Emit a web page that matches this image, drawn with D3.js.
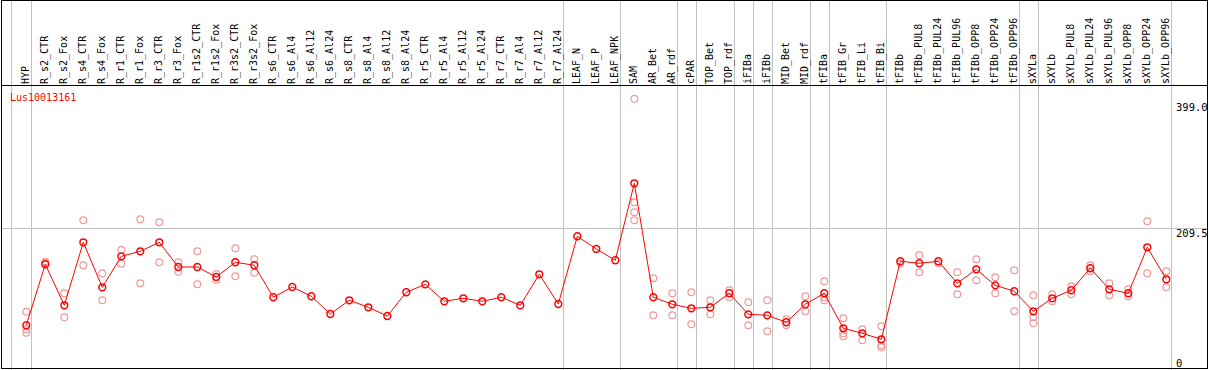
<!DOCTYPE html>
<html>
<head>
<meta charset="utf-8">
<script src="https://cdn.jsdelivr.net/npm/d3@7"></script>
<style>
  body { margin: 0; background: #fff; }
  text { font-family: "DejaVu Sans Mono", monospace; }
</style>
</head>
<body>
<script>
// Sample names (x categories)
var samples = ["HYP", "R_s2_CTR", "R_s2_Fox", "R_s4_CTR", "R_s4_Fox", "R_r1_CTR", "R_r1_Fox",
  "R_r3_CTR", "R_r3_Fox", "R_r1s2_CTR", "R_r1s2_Fox", "R_r3s2_CTR", "R_r3s2_Fox",
  "R_s6_CTR", "R_s6_Al4", "R_s6_Al12", "R_s6_Al24", "R_s8_CTR", "R_s8_Al4", "R_s8_Al12", "R_s8_Al24",
  "R_r5_CTR", "R_r5_Al4", "R_r5_Al12", "R_r5_Al24", "R_r7_CTR", "R_r7_Al4", "R_r7_Al12", "R_r7_Al24",
  "LEAF_N", "LEAF_P", "LEAF_NPK", "SAM", "AR_Bet", "AR_rdf", "cPAR", "TOP_Bet", "TOP_rdf",
  "iFIBa", "iFIBb", "MID_Bet", "MID_rdf", "tFIBa", "tFIB_Gr", "tFIB_Li", "tFIB_Bi",
  "tFIBb", "tFIBb_PUL8", "tFIBb_PUL24", "tFIBb_PUL96", "tFIBb_OPP8", "tFIBb_OPP24", "tFIBb_OPP96",
  "sXYLa", "sXYLb", "sXYLb_PUL8", "sXYLb_PUL24", "sXYLb_PUL96", "sXYLb_OPP8", "sXYLb_OPP24", "sXYLb_OPP96"];

// mean expression per sample
var means = [64.4, 155.7, 94.3, 188.6, 121.2, 167.6, 175.1, 188.6, 151.6, 151.6, 136.7, 158.7, 154.2,
  106.3, 121.7, 107.8, 81.3, 101.8, 91.3, 78.3, 113.8,
  125.7, 100.3, 104.8, 100.3, 106.3, 94.3, 140.7, 96.2,
  197.6, 178.6, 161.7, 276.9, 106.3, 95.8, 89.8, 91.3, 112.3,
  80.8, 79.3, 68.9, 95.8, 112.3, 59.9, 52.4, 43.4,
  160.2, 157.2, 160.2, 127.2, 148.2, 124.2, 115.3,
  85.3, 104.8, 116.8, 149.7, 118.2, 112.3, 181.1, 133.2];

// replicate values per sample
var replicates = [
  [84.7, 58.4, 53.3], [159.6, 157.6], [112.3, 76.3], [221.5, 154.2], [142.2, 101.8],
  [177.1, 156.6], [223.0, 127.2], [218.5, 158.7], [158.7, 144.6], [175.1, 125.7],
  [141.1, 132.6], [179.6, 137.7], [163.2, 143.1],
  [], [], [], [], [], [], [], [], [], [], [], [], [], [], [], [],
  [], [], [],
  [403.5, 248.5, 233.5, 221.5], [134.7, 79.3], [112.3, 79.3], [113.8, 65.9], [101.8, 80.8], [116.8, 106.3],
  [98.8, 64.4], [101.8, 55.4], [73.3, 64.4], [107.8, 85.3], [130.2, 106.3, 101.8],
  [74.8, 52.4, 47.9], [58.4, 41.9], [62.9, 34.4, 31.4],
  [157.2], [169.1, 143.7], [157.2], [143.7, 110.8], [163.2, 131.7], [136.2, 112.3], [146.7, 85.3],
  [109.3, 76.3, 67.4], [110.8, 100.3], [122.7, 110.8], [154.2, 145.2], [127.2, 109.3],
  [118.2, 107.8], [220.0, 142.2], [145.2, 121.2]];

// last sample of each group (a divider is drawn after it)
var groupEnds = ["HYP", "R_r7_Al24", "LEAF_NPK", "AR_rdf", "cPAR", "TOP_rdf", "iFIBa", "iFIBb",
  "MID_rdf", "tFIBa", "tFIB_Bi", "tFIBb_OPP96", "sXYLa", "sXYLb_OPP96"];

var geneName = "Lus10013161";
var yTicks = [399, 209.5, 0];
var yTickLabels = ["399.0", "209.5", "0"];

var width = 1209;
var height = 370;
var headerH = 85;

var x = d3.scaleBand()
  .domain(samples)
  .range([16.8, 16.8 + 19 * samples.length]);

var y = d3.scaleLinear()
  .domain([0, 399])
  .range([368.3, 101.7]);

function cx(s) { return x(s) + x.bandwidth() / 2; }

var svg = d3.select("body")
  .append("svg")
  .attr("width", width)
  .attr("height", height);

// horizontal mid grid line
svg.append("line")
  .attr("x1", 1).attr("x2", 1208)
  .attr("y1", Math.round(y(209.5)) + 0.5).attr("y2", Math.round(y(209.5)) + 0.5)
  .style("stroke", "#c0c0c0");

// group dividers (full height)
var divX = [x(samples[0]) - 6].concat(groupEnds.map(function(s) { return cx(s) + 4.5; }));
svg.selectAll("line.div")
  .data(divX)
  .enter()
  .append("line")
  .attr("class", "div")
  .attr("x1", function(d) { return Math.round(d) + 0.5; })
  .attr("x2", function(d) { return Math.round(d) + 0.5; })
  .attr("y1", 0).attr("y2", height)
  .style("stroke", "#c0c0c0");

// frame + header separator
svg.append("rect")
  .attr("x", 1.5).attr("y", 0.5)
  .attr("width", 1206).attr("height", 368)
  .style("fill", "none")
  .style("stroke", "#000");
svg.append("line")
  .attr("x1", 1).attr("x2", 1208)
  .attr("y1", headerH + 0.5).attr("y2", headerH + 0.5)
  .style("stroke", "#000");

// rotated sample labels (baseline snapped so the underscores land on a pixel)
svg.selectAll("text.sample")
  .data(samples)
  .enter()
  .append("text")
  .attr("class", "sample")
  .attr("transform", function(d) { return "translate(" + Math.round(cx(d) + 3) + "," + 84 + ") rotate(-90)"; })
  .style("font-size", "10px")
  .text(function(d) { return d; });

// gene name
svg.append("text")
  .attr("x", 10).attr("y", 101)
  .style("font-size", "10px")
  .style("fill", "#ff0000")
  .text(geneName);

// right value labels
svg.selectAll("text.ytick")
  .data(yTicks)
  .enter()
  .append("text")
  .attr("class", "ytick")
  .attr("x", 1176)
  .attr("y", function(d) { return Math.min(y(d) + 9, 366.7); })
  .style("font-size", "10.5px")
  .text(function(d, i) { return yTickLabels[i]; });

// replicate circles
var reps = [];
samples.forEach(function(s, i) {
  replicates[i].forEach(function(v) { reps.push({ s: s, v: v }); });
});
svg.selectAll("circle.rep")
  .data(reps)
  .enter()
  .append("circle")
  .attr("class", "rep")
  .attr("cx", function(d) { return cx(d.s); })
  .attr("cy", function(d) { return y(d.v); })
  .attr("r", 3.4)
  .style("fill", "none")
  .style("stroke", "#f09a9a")
  .style("stroke-width", 1.2);

// mean line
var line = d3.line()
  .x(function(d, i) { return cx(samples[i]); })
  .y(function(d) { return y(d); });
svg.append("path")
  .datum(means)
  .attr("d", line)
  .style("fill", "none")
  .style("stroke", "#ff0000")
  .style("stroke-width", 1);

// mean circles
svg.selectAll("circle.mean")
  .data(means)
  .enter()
  .append("circle")
  .attr("class", "mean")
  .attr("cx", function(d, i) { return cx(samples[i]); })
  .attr("cy", function(d) { return y(d); })
  .attr("r", 3.4)
  .style("fill", "none")
  .style("stroke", "#ff0000")
  .style("stroke-width", 1.5);
</script>
</body>
</html>
